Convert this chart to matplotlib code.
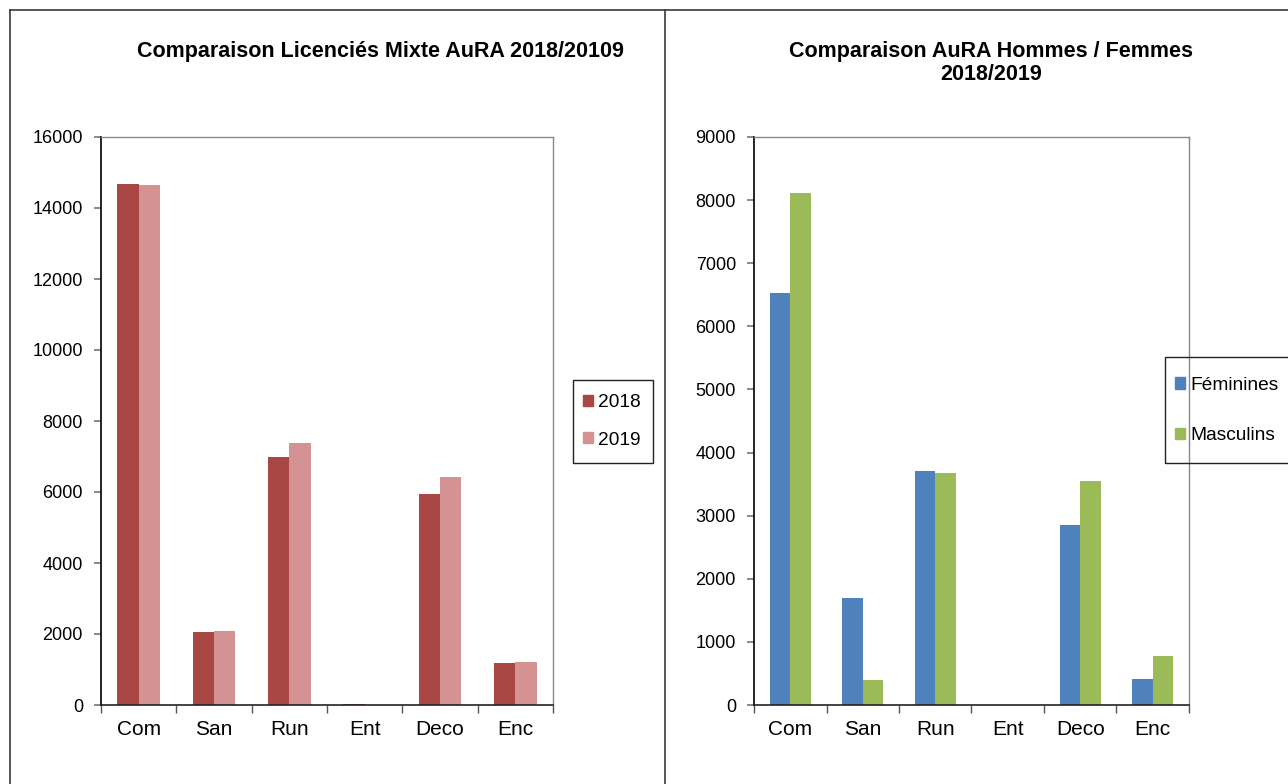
import numpy as np
import matplotlib.pyplot as plt
from matplotlib.lines import Line2D
from matplotlib.patches import Patch, Rectangle

plt.rcParams['font.family'] = ['Liberation Sans', 'DejaVu Sans']

# data
categories = ['Com', 'San', 'Run', 'Ent', 'Deco', 'Enc']
mixte_2018 = [14680, 2060, 6980, 15, 5950, 1175]
mixte_2019 = [14640, 2075, 7390, 10, 6420, 1200]
feminines = [6530, 1690, 3700, 5, 2860, 410]
masculins = [8110, 390, 3670, 5, 3550, 770]

c2018, c2019 = '#A94744', '#D49392'
cfem, cmasc = '#4F81BD', '#9BBB59'

W, H = 1288, 784
fig = plt.figure(figsize=(W / 100, H / 100), dpi=100)

def fx(px):
    return px / W

def fy(py):
    return 1 - py / H

# panel borders
for xs, ys in [((10, W), (10, 10)), ((10, 10), (10, H)), ((665, 665), (10, H))]:
    fig.add_artist(Line2D([fx(x) for x in xs], [fy(y) for y in ys],
                          color='#3a3a3a', lw=1.2, transform=fig.transFigure))


def bar_panel(ax, s1, s2, col1, col2, ymax, step):
    x = np.arange(len(categories))
    bw = 0.283
    ax.bar(x - bw / 2, s1, bw, color=col1, edgecolor='none', zorder=2)
    ax.bar(x + bw / 2, s2, bw, color=col2, edgecolor='none', zorder=2)
    ax.set_xlim(-0.5, len(categories) - 0.5)
    ax.set_ylim(0, ymax)
    ax.set_yticks(np.arange(0, ymax + 1, step))
    ax.set_xticks(x)
    ax.set_xticklabels(categories)
    ax.set_xticks(np.arange(-0.5, len(categories)), minor=True)
    ax.tick_params(axis='x', which='major', length=0, pad=11, labelsize=15)
    ax.tick_params(axis='x', which='minor', length=6, width=1, color='#555555',
                   direction='out')
    ax.tick_params(axis='y', length=5, width=1.2, color='#777777', pad=8,
                   labelsize=13)
    for side in ['top', 'right']:
        ax.spines[side].set_color('#888888')
        ax.spines[side].set_linewidth(1)
    ax.spines['left'].set_color('black')
    ax.spines['left'].set_linewidth(1.2)
    ax.spines['bottom'].set_color('#222222')
    ax.spines['bottom'].set_linewidth(1.2)


ax1 = fig.add_axes([fx(101), fy(705), fx(553 - 101), (705 - 137) / H])
bar_panel(ax1, mixte_2018, mixte_2019, c2018, c2019, 16000, 2000)

ax2 = fig.add_axes([fx(754), fy(705), fx(1189 - 754), (705 - 137) / H])
bar_panel(ax2, feminines, masculins, cfem, cmasc, 9000, 1000)

# titles
fig.text(fx(380), fy(51), 'Comparaison Licenciés Mixte AuRA 2018/20109',
         ha='center', va='center', fontsize=15.5, fontweight='bold')
fig.text(fx(991), fy(63), 'Comparaison AuRA Hommes / Femmes\n2018/2019',
         ha='center', va='center', fontsize=15.5, fontweight='bold',
         linespacing=1.1)

# legends (frames drawn separately)
leg_kw = dict(frameon=False, fontsize=13.8, handlelength=0.52,
              handleheight=0.52, handletextpad=0.28, borderpad=0.5,
              borderaxespad=0, loc='center left')
fig.legend(handles=[Patch(color=c2018), Patch(color=c2019)],
           labels=['2018', '2019'], bbox_to_anchor=(fx(573), fy(421.5)),
           labelspacing=1.05, **leg_kw)
fig.legend(handles=[Patch(color=cfem), Patch(color=cmasc)],
           labels=['Féminines', 'Masculins'], bbox_to_anchor=(fx(1165), fy(410.5)),
           labelspacing=1.75, **leg_kw)
for x0, x1, y0, y1 in [(573, 653, 380, 463), (1165, 1300, 357, 463)]:
    fig.add_artist(Rectangle((fx(x0), fy(y1)), fx(x1 - x0), (y1 - y0) / H,
                             transform=fig.transFigure, fill=False,
                             edgecolor='#222222', lw=1))

fig.savefig('out.png', dpi=100, facecolor='white')
